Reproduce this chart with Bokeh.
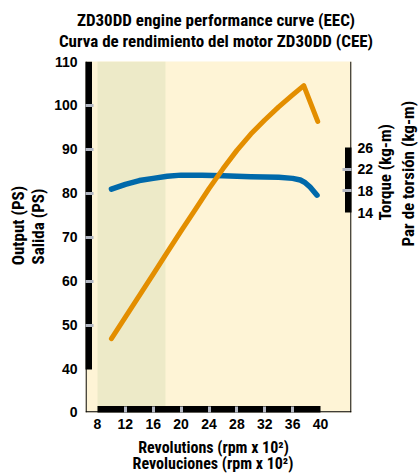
import math
from bokeh.plotting import figure
from bokeh.models import Range1d, LinearAxis, FixedTicker, BoxAnnotation, Span
from bokeh.embed import file_html
from bokeh.resources import INLINE

# ---------------- data ----------------
title_lines = ["ZD30DD engine performance curve (EEC)",
               "Curva de rendimiento del motor ZD30DD (CEE)"]
y_label_lines = ["Output (PS)", "Salida (PS)"]
y2_label_lines = ["Torque (kg-m)", "Par de torsión (kg-m)"]
x_label_lines = ["Revolutions (rpm x 10²)", "Revoluciones (rpm x 10²)"]

power_rpm = [10, 12, 14, 16, 18, 20, 22, 24, 26, 28, 30, 32, 34, 36, 37.6, 39.6]
power_ps = [47.0, 51.9, 56.8, 61.7, 66.6, 71.5, 76.3, 81.1, 85.6, 89.8, 93.5,
            96.7, 99.7, 102.4, 104.5, 96.4]

torque_rpm = [10, 12, 14, 16, 18, 20, 23, 26, 30, 34, 36, 37.1, 37.8, 38.5, 39.5]
torque_kgm = [18.3, 19.2, 19.9, 20.3, 20.7, 20.9, 20.9, 20.8, 20.6, 20.5, 20.3,
              20.0, 19.5, 18.7, 17.2]

x_ticks = [8, 12, 16, 20, 24, 28, 32, 36, 40]
ps_ticks = [40, 50, 60, 70, 80, 90, 100, 110]
torque_ticks = [14, 18, 22, 26]
zero_tick = 30.23          # position of the "0" label of the broken PS axis
zero_label = "0"
band_rpm = (8, 17.75)

# ---------------- styling / geometry ----------------
CREAM = "#fef4d6"
BAND = "#edeac8"
GREY = "#b3b7c2"
BLUE = "#0069aa"
ORANGE = "#e38e00"
NARROW = "'Roboto Condensed', 'DejaVu Sans Condensed', Roboto, sans-serif"
TICKFONT = "Liberation Sans"

FL, FT, FW, FH = 85, 61, 266, 351   # frame left/top/size in px
X0, X1 = 6.278, 44.447
Y0, Y1 = 30.227, 110.0
T0, T1 = -22.92, 41.877


def px2x(px):
    return round(X0 + (px - FL) * (X1 - X0) / FW, 3)


def py2y(py):
    return round(Y1 - (py - FT) * (Y1 - Y0) / FH, 3)


def py2t(py):
    return round(T1 - (py - FT) * (T1 - T0) / FH, 3)


p = figure(frame_width=FW, frame_height=FH, min_border_left=FL, min_border_top=FT,
           min_border_right=67, min_border_bottom=60,
           x_range=Range1d(X0, X1), y_range=Range1d(Y0, Y1),
           output_backend="svg", toolbar_location=None, title=None)
p.extra_y_ranges = {"torque": Range1d(T0, T1)}
p.background_fill_color = CREAM
p.border_fill_color = "white"
p.outline_line_color = None
p.grid.visible = False

p.add_layout(BoxAnnotation(left=band_rpm[0], right=band_rpm[1], fill_color=BAND,
                           fill_alpha=1, line_color=None, level="underlay"))

# thin frame lines (left, right, bottom; none on top)
for loc, dim in [(px2x(FL + 0.6), "height"), (px2x(FL + FW - 0.6), "height"),
                 (py2y(FT + FH - 0.6), "width")]:
    p.add_layout(Span(location=loc, dimension=dim, line_color="black", line_width=1.2,
                      level="underlay"))


def plain(ax):
    ax.axis_line_color = None
    ax.major_tick_line_color = None
    ax.minor_tick_line_color = None
    ax.major_tick_in = 0
    ax.major_tick_out = 0
    ax.minor_tick_in = 0
    ax.minor_tick_out = 0


def tick_font(ax, size="14px"):
    ax.major_label_text_font = TICKFONT
    ax.major_label_text_font_style = "bold"
    ax.major_label_text_font_size = size
    ax.major_label_text_color = "black"


# ---- labelled axes (numbers) ----
ax_l = p.yaxis[0]
plain(ax_l)
ax_l.ticker = FixedTicker(ticks=[zero_tick] + ps_ticks)
ax_l.major_label_overrides = {zero_tick: zero_label}
ax_l.major_label_standoff = 8
tick_font(ax_l)

ax_b = p.xaxis[0]
plain(ax_b)
ax_b.ticker = FixedTicker(ticks=x_ticks)
ax_b.major_label_standoff = 6
tick_font(ax_b)

ax_r = LinearAxis(y_range_name="torque")
plain(ax_r)
ax_r.ticker = FixedTicker(ticks=torque_ticks)
ax_r.major_label_standoff = 6
tick_font(ax_r)
p.add_layout(ax_r, "right")


# ---- black bars with grey ticks (axes at fixed positions) ----
def bar_axis(ticks, bounds, loc, tin, tout, range_name=None):
    ax = LinearAxis(y_range_name=range_name) if range_name else LinearAxis()
    ax.fixed_location = loc
    ax.ticker = FixedTicker(ticks=ticks, minor_ticks=ticks[1:-1])
    ax.bounds = bounds
    ax.axis_line_width = 7
    ax.axis_line_color = "black"
    ax.axis_line_cap = "butt"
    ax.major_tick_line_color = None
    ax.major_tick_in = 0
    ax.major_tick_out = 0
    ax.minor_tick_line_color = GREY
    ax.minor_tick_line_width = 3
    ax.minor_tick_in = tin
    ax.minor_tick_out = tout
    ax.major_label_text_color = None
    ax.major_label_text_font_size = "0px"
    return ax


p.add_layout(bar_axis(ps_ticks, (ps_ticks[0], ps_ticks[-1]), px2x(FL + 2.5), 5, 5), "left")
p.add_layout(bar_axis(x_ticks, (x_ticks[0], x_ticks[-1]), py2y(FT + FH - 3), 3, 8), "below")
p.add_layout(bar_axis(torque_ticks, (torque_ticks[0], torque_ticks[-1]), px2x(FL + FW - 3), 6, 6,
                      "torque"), "right")


# ---- text lines placed as single tick labels of extra axes ----
def text_axis(side, value, text, standoff, size, orient, range_name=None):
    if side in ("left", "right"):
        ax = LinearAxis(y_range_name=range_name) if range_name else LinearAxis()
    else:
        ax = LinearAxis()
    plain(ax)
    ax.ticker = FixedTicker(ticks=[value])
    ax.major_label_overrides = {value: text}
    ax.major_label_standoff = standoff
    ax.major_label_orientation = orient
    ax.major_label_text_font = NARROW
    ax.major_label_text_font_style = "bold"
    ax.major_label_text_font_size = size
    ax.major_label_text_color = "black"
    p.add_layout(ax, side)


# right-side rotated labels start (bottom end) at their tick
text_axis("above", px2x(215.5), title_lines[1], 11, "17px", "horizontal")
text_axis("above", px2x(215.5), title_lines[0], -2, "17px", "horizontal")
text_axis("left", py2y(226), y_label_lines[1], 3, "17px", "vertical")
text_axis("left", py2y(225), y_label_lines[0], -3, "17px", "vertical")
text_axis("right", py2t(220), y2_label_lines[0], 9, "17px", math.pi / 2, "torque")
text_axis("right", py2t(246), y2_label_lines[1], 0, "17px", math.pi / 2, "torque")
text_axis("below", px2x(213), x_label_lines[0], 6, "16px", "horizontal")
text_axis("below", px2x(212.5), x_label_lines[1], -6, "16px", "horizontal")

p.line(torque_rpm, torque_kgm, y_range_name="torque", line_color=BLUE, line_width=5.5,
       line_cap="round", line_join="round")
p.line(power_rpm, power_ps, line_color=ORANGE, line_width=5,
       line_cap="round", line_join="round")

open("out.html", "w").write(file_html(p, INLINE))
